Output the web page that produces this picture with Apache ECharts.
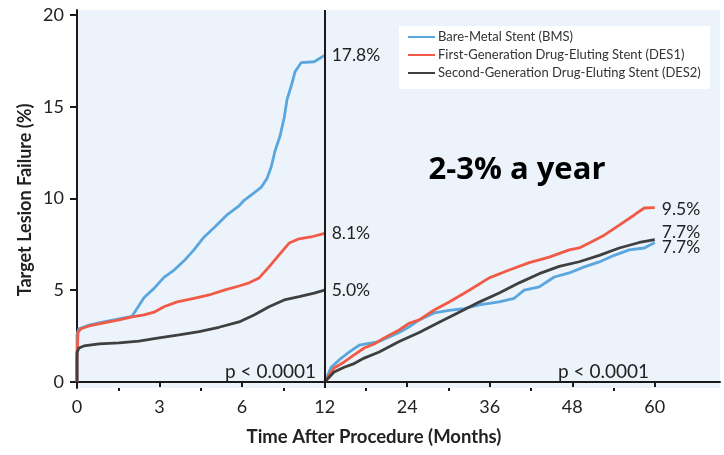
<!DOCTYPE html>
<html><head><meta charset="utf-8">
<script src="https://cdn.jsdelivr.net/npm/echarts@6/dist/echarts.min.js"></script>
<style>html,body{margin:0;padding:0;background:#fff}#c{width:724px;height:455px}</style>
</head><body><div id="c"></div>
<script>
// Tick labels (equally spaced on the axis)
const xTickLabels = ['0','3','6','12','24','36','48','60'];
const yTicks = [0,5,10,15,20];
const seriesNames = ['Bare-Metal Stent (BMS)','First-Generation Drug-Eluting Stent (DES1)','Second-Generation Drug-Eluting Stent (DES2)'];

// Months / cumulative TLF (%) - first year (0-12 months)
const bmsLeftT = [0,0,0.07,0.44,0.8,1.16,1.53,2.0,2.44,2.8,3.16,3.53,3.89,4.25,4.62,4.98,5.45,5.89,6.15,6.87,7.38,7.82,8.11,8.4,8.76,9.06,9.27,9.56,9.85,10.29,11.24,12];
const bmsLeftV = [0,2.6,2.9,3.1,3.22,3.33,3.44,3.58,4.6,5.1,5.7,6.1,6.6,7.2,7.9,8.4,9.1,9.6,9.9,10.3,10.6,11.1,11.7,12.6,13.4,14.4,15.4,16.1,16.9,17.4,17.45,17.8];
const des1LeftT = [0,0,0.036,0.145,0.44,0.8,1.16,1.53,2.0,2.44,2.8,3.16,3.64,4.25,4.8,5.35,5.89,6.51,7.24,7.96,8.69,9.42,10.15,11.0,12];
const des1LeftV = [0,1.2,2.7,2.9,3.05,3.16,3.27,3.38,3.54,3.65,3.8,4.1,4.36,4.56,4.74,5.0,5.23,5.4,5.67,6.27,6.92,7.57,7.8,7.9,8.1];
const des2LeftT = [0,0,0.07,0.25,0.8,1.53,2.25,2.98,3.71,4.44,5.16,5.89,6.87,7.96,9.06,10.15,11.24,12];
const des2LeftV = [0,1.6,1.85,1.96,2.07,2.13,2.23,2.4,2.56,2.74,2.98,3.27,3.65,4.1,4.47,4.65,4.84,5.0];

// Landmark 12-60 months
const bmsRightT = [12,12.95,14.11,15.56,17.02,18.47,19.93,21.38,22.84,24.29,25.75,27.93,30.11,32.29,34.47,37.38,39.56,41.02,43.2,45.38,47.56,49.75,51.93,54.11,56.29,58.47,60];
const bmsRightV = [0,0.8,1.2,1.63,2.0,2.1,2.2,2.45,2.7,3.0,3.38,3.76,3.9,4.0,4.2,4.36,4.56,5.0,5.18,5.72,5.94,6.27,6.54,6.9,7.2,7.3,7.6];
const des1RightT = [12,13.38,14.84,16.29,17.75,19.2,20.65,22.84,24.29,25.75,27.93,30.11,33.02,35.93,38.84,41.75,44.65,47.56,49.02,50.47,52.65,54.84,57.02,58.47,60];
const des1RightV = [0,0.76,1.09,1.47,1.85,2.07,2.4,2.83,3.2,3.38,3.92,4.36,5.0,5.67,6.1,6.5,6.8,7.2,7.3,7.57,8.0,8.55,9.1,9.48,9.5];
const des2RightT = [12,13.38,14.84,16.29,17.75,19.93,22.84,25.75,28.65,31.56,34.47,37.38,40.29,43.2,46.11,49.02,51.93,54.84,57.75,60];
const des2RightV = [0,0.54,0.8,1.0,1.3,1.63,2.2,2.7,3.25,3.8,4.35,4.85,5.4,5.9,6.3,6.55,6.9,7.3,7.6,7.75];

const endLabels = {bmsL:'17.8%', des1L:'8.1%', des2L:'5.0%', bmsR:'7.7%', des1R:'9.5%', des2R:'7.7%'};

// axis position: labels 0,3,6,12,24,... are equally spaced
function toPos(m){ if(m<=6) return m/3; if(m<=12) return 2+(m-6)/6; return 3+(m-12)/12; }
function pts(T,V){ return T.map((t,i)=>[toPos(t),V[i]]); }

const colors = ['#5AA6DE','#F15A46','#3F3F3F'];
const FONT = 'Lato';
function line(name,ci,T,V,lab,off,extra){
  return Object.assign({
    type:'line', name:name, data:pts(T,V), showSymbol:false, symbol:'none',
    lineStyle:{color:colors[ci],width:2.8}, itemStyle:{color:colors[ci]},
    silent:true, animation:false,
    endLabel:{show:true, formatter:lab, color:'#222', fontSize:17.5, fontFamily:FONT, distance:7, offset:off||[0,0]}
  }, extra||{});
}

const chart = echarts.init(document.getElementById('c'), null, {renderer:'canvas'});
chart.setOption({
  animation:false,
  textStyle:{fontFamily:FONT},
  grid:{left:77, right:4, top:10, bottom:67, show:true, backgroundColor:'#ECF3FB', borderWidth:0},
  legend:{
    data:seriesNames, orient:'vertical', left:399, top:26, backgroundColor:'#fff',
    padding:[4,9,9,9], itemGap:4, itemWidth:27, itemHeight:2, icon:'rect',
    textStyle:{fontSize:13, color:'#333', fontFamily:FONT, lineHeight:14, padding:[0,0,0,-2]}
  },
  xAxis:[{
    type:'value', min:0, max:7.79,
    axisLine:{lineStyle:{color:'#1a1a1a', width:2}},
    axisTick:{customValues:[0,1,2,3,4,5,6,7], length:5, lineStyle:{color:'#1a1a1a', width:2}},
    axisLabel:{customValues:[0,1,2,3,4,5,6,7], formatter:v=>xTickLabels[Math.round(v)], fontSize:18, color:'#222', margin:10, fontFamily:FONT},
    splitLine:{show:false}
  },{
    type:'value', min:0, max:7.79, position:'bottom',
    axisLine:{show:false},
    axisTick:{customValues:[0.5,1.5,2.5,3.5,4.5,5.5,6.5], length:3, lineStyle:{color:'#1a1a1a', width:2}},
    axisLabel:{show:false}, splitLine:{show:false}
  }],
  yAxis:{
    type:'value', min:-0.33, max:20.27,
    axisLine:{show:true, lineStyle:{color:'#1a1a1a', width:2}},
    axisTick:{show:true, customValues:yTicks, length:7, lineStyle:{color:'#1a1a1a', width:2}},
    axisLabel:{customValues:yTicks, fontSize:18, color:'#222', margin:13, fontFamily:FONT},
    splitLine:{show:false}
  },
  series:[
    line(seriesNames[0],0,bmsLeftT,bmsLeftV,endLabels.bmsL,[0,0],{
      markLine:{silent:true, symbol:'none', label:{show:false}, lineStyle:{color:'#1a1a1a', width:2, type:'solid'}, data:[{xAxis:toPos(12)}]}
    }),
    line(seriesNames[1],1,des1LeftT,des1LeftV,endLabels.des1L),
    line(seriesNames[2],2,des2LeftT,des2LeftV,endLabels.des2L),
    line(seriesNames[0],0,bmsRightT,bmsRightV,endLabels.bmsR,[0,5]),
    line(seriesNames[1],1,des1RightT,des1RightV,endLabels.des1R,[0,2]),
    line(seriesNames[2],2,des2RightT,des2RightV,endLabels.des2R,[0,-7])
  ],
  graphic:[
    {type:'text', x:25, y:200, rotation:Math.PI/2, style:{text:'Target Lesion Failure (%)', font:'bold 18px '+FONT, fill:'#222', align:'center', verticalAlign:'middle'}},
    {type:'text', x:374, y:437, style:{text:'Time After Procedure (Months)', font:'bold 18.5px '+FONT, fill:'#222', align:'center', verticalAlign:'middle'}},
    {type:'text', x:517, y:170, style:{text:'2-3% a year', font:'bold 31px "Open Sans"', fill:'#000', align:'center', verticalAlign:'middle'}},
    {type:'text', x:316, y:372, style:{text:'p < 0.0001', font:'19px '+FONT, fill:'#222', align:'right', verticalAlign:'middle'}},
    {type:'text', x:558, y:372, style:{text:'p < 0.0001', font:'19px '+FONT, fill:'#222', align:'left', verticalAlign:'middle'}}
  ]
});
</script></body></html>
